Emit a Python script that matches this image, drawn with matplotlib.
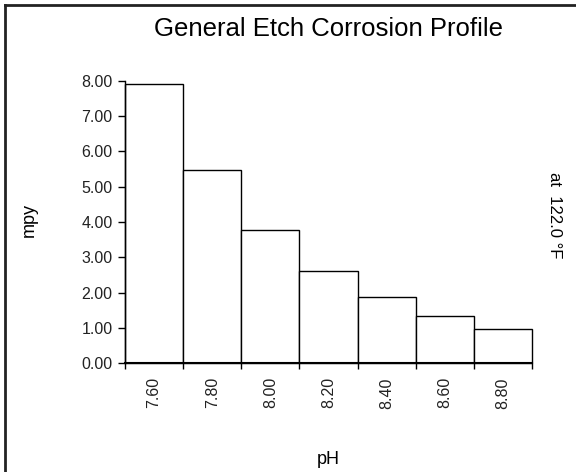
import matplotlib
matplotlib.use('Agg')
import matplotlib.pyplot as plt
from matplotlib.lines import Line2D
import numpy as np

plt.rcParams['font.family'] = ['Liberation Sans', 'DejaVu Sans']

# pH categories and corrosion rate (mpy)
ph_labels = ['7.60', '7.80', '8.00', '8.20', '8.40', '8.60', '8.80']
mpy = [7.91, 5.46, 3.78, 2.62, 1.87, 1.34, 0.98]
y_ticks = [0, 1, 2, 3, 4, 5, 6, 7, 8]

fig = plt.figure(figsize=(5.76, 4.72), dpi=100)
ax = fig.add_axes([125/576, 1 - 363.3/472, (532 - 125)/576, (363.3 - 80.7)/472])

x = np.arange(len(ph_labels))
bars = ax.bar(x, mpy, width=1.0, color='white', edgecolor='black', linewidth=1.0)
for b in bars:
    b.set_clip_on(False)

ax.set_xlim(-0.5, len(ph_labels) - 0.5)
ax.set_ylim(0, 8)

# labels at bar centres, tick marks at bar edges
ax.set_xticks(x)
ax.set_xticklabels(ph_labels, rotation=90, fontsize=11.5, color='#222222')
ax.tick_params(axis='x', which='major', length=0, pad=10)
ax.set_xticks(np.arange(len(ph_labels) + 1) - 0.5, minor=True)
ax.tick_params(axis='x', which='minor', length=4, width=1, color='black')

ax.set_yticks(y_ticks)
ax.set_yticklabels(['%.2f' % v for v in y_ticks], fontsize=11.5, color='#222222')
ax.tick_params(axis='y', length=5, width=1, pad=4)

for side in ['top', 'right']:
    ax.spines[side].set_visible(False)
ax.spines['left'].set_linewidth(1)
ax.spines['bottom'].set_linewidth(1.5)

fig.text(328/576, 1 - 29/472, 'General Etch Corrosion Profile', ha='center', va='center', fontsize=18.5)
fig.text(29/576, 1 - 220/472, 'mpy', rotation=90, ha='center', va='center', fontsize=13)
fig.text(328/576, 1 - 459/472, 'pH', ha='center', va='center', fontsize=13)
fig.text(555/576, 1 - 215/472, 'at  122.0 °F', rotation=-90, ha='center', va='center', fontsize=12)

# outer frame (only top and left edges are visible)
fig.add_artist(Line2D([4.5/576, 1], [1 - 5/472, 1 - 5/472], color='#222222', linewidth=2))
fig.add_artist(Line2D([4.5/576, 4.5/576], [0, 1 - 5/472], color='#222222', linewidth=2))

fig.savefig('out.png', dpi=100)
